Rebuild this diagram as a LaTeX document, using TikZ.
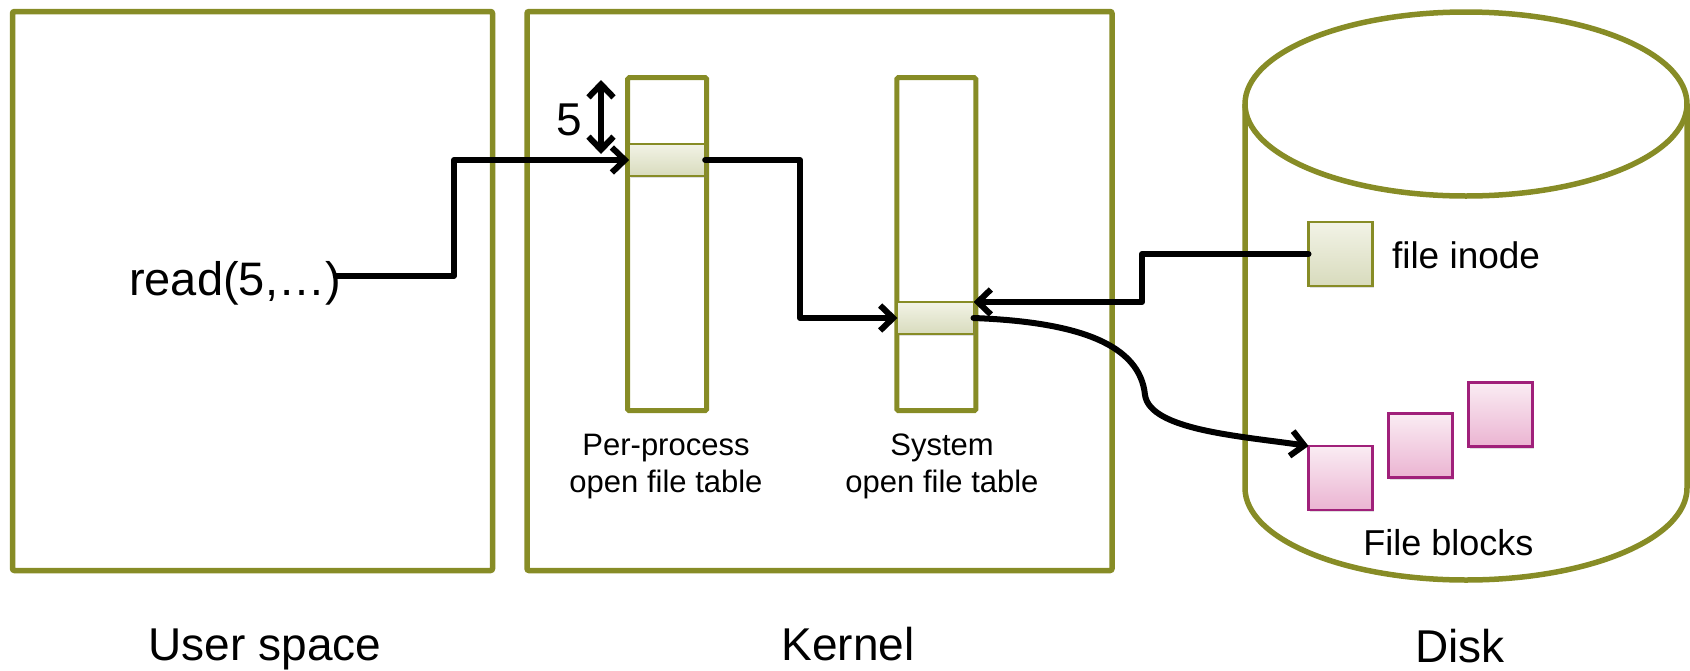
\documentclass[tikz,border=0pt]{standalone}
\usepackage{fontspec}
\setmainfont{Liberation Sans}
\usetikzlibrary{arrows.meta,shadows,calc}
\definecolor{oliveline}{HTML}{878C26}
\definecolor{slottop}{HTML}{F2F3E6}
\definecolor{slotbot}{HTML}{D8DBBD}
\definecolor{pinkline}{HTML}{A0207A}
\definecolor{pinktop}{HTML}{FAECF3}
\definecolor{pinkbot}{HTML}{EBB4D2}
\begin{document}
\begin{tikzpicture}[x=1pt,y=-1pt,
  >={Straight Barb[length=13pt,width=25pt]},
  userbox/.style={draw=oliveline, line width=5.5pt, rounded corners=2pt, inner sep=0pt, outer sep=0pt},
  tablebox/.style={draw=oliveline, line width=5pt, rounded corners=1.5pt, minimum width=79pt, minimum height=333pt, inner sep=0pt, outer sep=0pt},
  slotbox/.style={draw=oliveline, line width=1.8pt, top color=slottop, bottom color=slotbot, minimum width=76pt, minimum height=32pt, inner sep=0pt, outer sep=0pt, drop shadow={shadow xshift=1.5pt, shadow yshift=-2pt, opacity=0.25}},
  inodebox/.style={draw=oliveline, line width=2.4pt, top color=slottop, bottom color=slotbot, minimum size=64pt, inner sep=0pt, outer sep=0pt, drop shadow={shadow xshift=1.5pt, shadow yshift=-2pt, opacity=0.25}},
  blockbox/.style={draw=pinkline, line width=2.4pt, top color=pinktop, bottom color=pinkbot, minimum size=64pt, inner sep=0pt, outer sep=0pt, drop shadow={shadow xshift=1.5pt, shadow yshift=-2pt, opacity=0.25}},
  txt/.style={inner sep=0pt, outer sep=0pt, text=black},
  conn/.style={draw=black, line width=6pt, line join=round, line cap=round}
]
\useasboundingbox (0,0) rectangle (1690,670);

% containers
\node[userbox, minimum width=480pt, minimum height=559pt] (user) at (252.5,291) {};
\node[userbox, minimum width=585pt, minimum height=559pt] (kernel) at (819.5,291) {};

% disk cylinder
\draw[oliveline, line width=5.5pt] (1245,104) -- (1245,488)
  arc[start angle=180, end angle=360, x radius=221pt, y radius=92pt] -- (1687,104);
\draw[oliveline, line width=5.5pt] (1466,104) ellipse[x radius=221pt, y radius=92pt];

% tables
\node[tablebox] (ppt) at (667.2,244.2) {};
\node[tablebox] (sft) at (936.3,244.2) {};
\node[slotbox] (slot1) at (667.2,160) {};
\node[slotbox] (slot2) at (935.5,318) {};

% disk contents
\node[inodebox] (inode) at (1340.5,254) {};
\node[blockbox] (b1) at (1340.5,478) {};
\node[blockbox] (b2) at (1420.5,445.5) {};
\node[blockbox] (b3) at (1500.5,414.5) {};

% texts
\node[txt, font=\fontsize{47}{56}\selectfont, anchor=base] (read) at (235,295) {read(5,…)};
\node[txt, font=\fontsize{46}{55}\selectfont, anchor=base] (five) at (569.5,135) {5};
\node[txt, font=\fontsize{31}{37}\selectfont, anchor=north, align=center] (pplabel) at (666,434) {Per-process\\open file table};
\node[txt, font=\fontsize{31}{37}\selectfont, anchor=north, align=center] (sflabel) at (942,434) {System\\open file table};
\node[txt, font=\fontsize{37}{44}\selectfont, anchor=base west] (inodelabel) at (1392,268) {file inode};
\node[txt, font=\fontsize{36}{43}\selectfont, anchor=base] (blockslabel) at (1448.5,555) {File blocks};
\node[txt, font=\fontsize{46}{55}\selectfont, anchor=base] (userlabel) at (265,660) {User space};
\node[txt, font=\fontsize{46}{55}\selectfont, anchor=base] (kernellabel) at (848,660) {Kernel};
\node[txt, font=\fontsize{46}{55}\selectfont, anchor=base] (disklabel) at (1460,662) {Disk};

% connectors
\coordinate (k1) at (454,160);
\coordinate (k2) at (800,318);
\coordinate (k3) at (1142,302);
\coordinate (d1) at (601,80);
\coordinate (d2) at (601,154);
\draw[conn, ->] ([xshift=-5pt,yshift=7pt]read.east) -| (k1) -- (slot1.west);
\draw[conn, ->] (slot1.east) -| (k2) -- (slot2.west);
\draw[conn, ->] (inode.west) -| (k3) -- (slot2.north east);
\draw[conn, ->] (slot2.east) .. controls (1080,322) and (1140,345) .. (1145,395)
  .. controls (1150,430) and (1240,436) .. (b1.north west);
\draw[conn, <->] (d1) -- (d2);
\end{tikzpicture}
\end{document}
